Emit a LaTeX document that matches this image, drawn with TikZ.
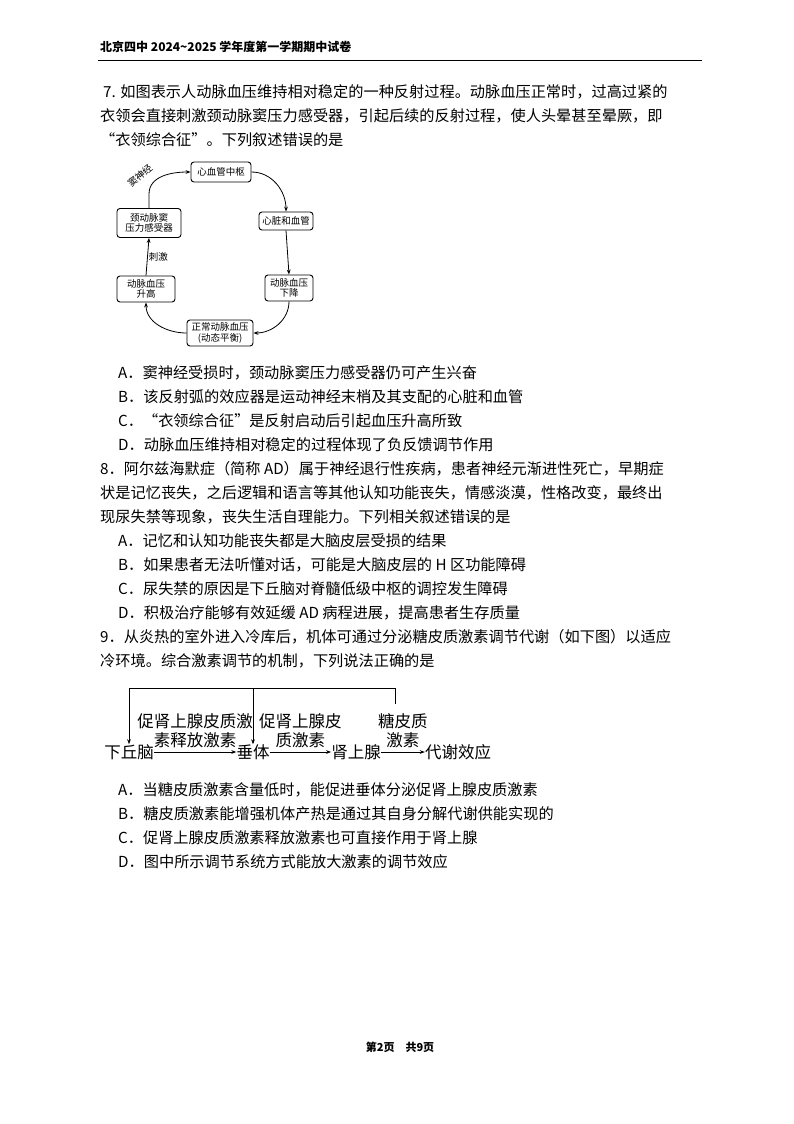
\documentclass[tikz,border=0pt]{standalone}
\usepackage{fontspec}
\setmainfont{Noto Sans CJK SC}
\usetikzlibrary{arrows.meta}
\begin{document}
\begin{tikzpicture}[x=1pt,y=-1pt,
  txt/.style={anchor=west,inner sep=0pt,font=\fontsize{15.2}{17}\selectfont},
  bx/.style={draw,rounded corners=3pt,line width=0.9pt,align=center,inner sep=1.5pt,font=\fontsize{9.5}{10.5}\selectfont},
  arr/.style={-{Stealth[length=5pt]},line width=0.8pt},
  lbl/.style={inner sep=1pt,font=\fontsize{9.5}{10.5}\selectfont},
  big/.style={inner sep=0pt,font=\fontsize{16.5}{19}\selectfont,align=center}]
\useasboundingbox (0,0) rectangle (794,1124);
\fill[white] (0,0) rectangle (794,1124);
\node[txt,font=\bfseries\fontsize{12}{14}\selectfont] (hd) at (100,47) {北京四中 2024\textasciitilde2025 学年度第一学期期中试卷};
\draw[line width=1pt] (98,61) -- (702,61);
\node[txt] (q7a) at (103,92) {7. 如图表示人动脉血压维持相对稳定的一种反射过程。动脉血压正常时，过高过紧的};
\node[txt] (q7b) at (100,116) {衣领会直接刺激颈动脉窦压力感受器，引起后续的反射过程，使人头晕甚至晕厥，即};
\node[txt] (q7c) at (100,140) {“衣领综合征”。下列叙述错误的是};
% diagram 1
\node[bx,minimum width=60pt,minimum height=20pt] (zs) at (221,172) {心血管中枢};
\node[bx,minimum width=54pt,minimum height=18pt] (xz) at (286,221) {心脏和血管};
\node[bx,minimum width=48pt,minimum height=26pt] (xj) at (289,288) {动脉血压\\下降};
\node[bx,minimum width=66pt,minimum height=26pt] (zc) at (220,333) {正常动脉血压\\(动态平衡)};
\node[bx,minimum width=58pt,minimum height=26pt] (sg) at (146,289) {动脉血压\\升高};
\node[bx,minimum width=64pt,minimum height=29pt] (gy) at (149,223) {颈动脉窦\\压力感受器};
\draw[arr] (gy.north) -- ++(0,-14) to[out=90,in=180] (zs.west);
\node[lbl,rotate=40] (sj) at (140,176) {窦神经};
\draw[arr] (zs.east) to[out=0,in=90] (xz.north);
\draw[arr] (xz.south) -- (xj.north);
\draw[arr] (xj.south) to[out=-90,in=0] (zc.east);
\draw[arr] (zc.west) to[out=180,in=-90] (sg.south);
\draw[arr] (sg.north) -- node[lbl,right] (cj) {刺激} (gy.south);
% options 7
\node[txt] (o7a) at (118,373) {A．窦神经受损时，颈动脉窦压力感受器仍可产生兴奋};
\node[txt] (o7b) at (118,397) {B．该反射弧的效应器是运动神经末梢及其支配的心脏和血管};
\node[txt] (o7c) at (118,421) {C．“衣领综合征”是反射启动后引起血压升高所致};
\node[txt] (o7d) at (118,445) {D．动脉血压维持相对稳定的过程体现了负反馈调节作用};
\node[txt] (q8a) at (100,469) {8．阿尔兹海默症（简称 AD）属于神经退行性疾病，患者神经元渐进性死亡，早期症};
\node[txt] (q8b) at (100,493) {状是记忆丧失，之后逻辑和语言等其他认知功能丧失，情感淡漠，性格改变，最终出};
\node[txt] (q8c) at (100,517) {现尿失禁等现象，丧失生活自理能力。下列相关叙述错误的是};
\node[txt] (o8a) at (118,541) {A．记忆和认知功能丧失都是大脑皮层受损的结果};
\node[txt] (o8b) at (118,565) {B．如果患者无法听懂对话，可能是大脑皮层的 H 区功能障碍};
\node[txt] (o8c) at (118,589) {C．尿失禁的原因是下丘脑对脊髓低级中枢的调控发生障碍};
\node[txt] (o8d) at (118,613) {D．积极治疗能够有效延缓 AD 病程进展，提高患者生存质量};
\node[txt] (q9a) at (100,637) {9．从炎热的室外进入冷库后，机体可通过分泌糖皮质激素调节代谢（如下图）以适应};
\node[txt] (q9b) at (100,661) {冷环境。综合激素调节的机制，下列说法正确的是};
% diagram 2
\node[big] (xqn) at (129,752) {下丘脑};
\node[big] (ct) at (253,752) {垂体};
\node[big] (ssx) at (356,752) {肾上腺};
\node[big] (dx) at (458,752) {代谢效应};
\draw[arr] (xqn.east) -- node[big,above=4pt] (l1) {促肾上腺皮质激\\素释放激素} (ct.west);
\draw[arr] (ct.east) -- node[big,above=4pt] (l2) {促肾上腺皮\\质激素} (ssx.west);
\draw[arr] (ssx.east) -- node[big,above=4pt] (l3) {糖皮质\\激素} (dx.west);
\coordinate (fb) at (395,704);
\draw[line width=0.9pt] (fb) -- (395,688) -- (129,688);
\draw[arr] (129,688) -- (xqn.north);
\draw[arr] (253,688) -- (ct.north);
\node[txt] (o9a) at (118,790) {A．当糖皮质激素含量低时，能促进垂体分泌促肾上腺皮质激素};
\node[txt] (o9b) at (118,814) {B．糖皮质激素能增强机体产热是通过其自身分解代谢供能实现的};
\node[txt] (o9c) at (118,838) {C．促肾上腺皮质激素释放激素也可直接作用于肾上腺};
\node[txt] (o9d) at (118,862) {D．图中所示调节系统方式能放大激素的调节效应};
\node[font=\bfseries\fontsize{11}{13}\selectfont] (ft) at (400,1047) {第2页\quad 共9页};
\end{tikzpicture}
\end{document}
